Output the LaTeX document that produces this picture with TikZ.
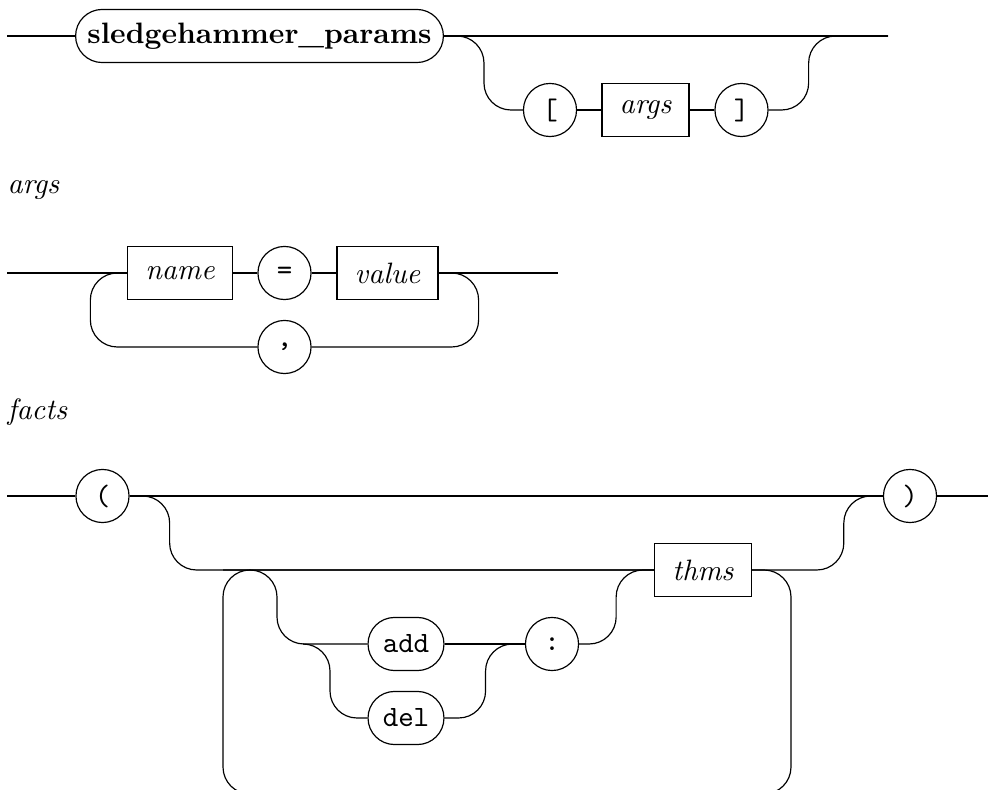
\documentclass[tikz,border=0pt]{standalone}
\usepackage{tikz}
\tikzset{
  rail/.style={rounded corners=9.15pt},
  term/.style={draw, circle, minimum size=18pt, inner sep=0pt, font=\ttfamily},
  kwbox/.style={draw, rounded corners=9pt, minimum height=18pt, inner xsep=4pt, font=\bfseries},
  ttbox/.style={draw, rounded corners=9pt, minimum height=18pt, inner xsep=5pt, font=\ttfamily},
  ntbox/.style={draw, minimum height=18pt, inner xsep=6pt, font=\itshape},
  title/.style={anchor=west, inner sep=0pt, font=\itshape},
}

\begin{document}
\begin{tikzpicture}[x=0.339pt, y=-0.339pt]
\useasboundingbox (0,0) rectangle (995,790);
\clip (0,0) rectangle (995,790);
% sledgehammer_params
\coordinate (s1) at (7,36);
\coordinate (e1) at (888,36);
\node[kwbox] (kw) at (259.5,36) {sledgehammer\_params};
\node[term] (lb) at (550,110) {[};
\node[ntbox] (ar) at (645.5,110) {args};
\node[term] (rb) at (741.5,110) {]};
\draw (s1) -- (kw.west);
\draw (kw.east) -- (e1);
\draw[rail] (kw.east) -- ++(40,0) |- (lb.west);
\draw (lb.east) -- (ar.west);
\draw (ar.east) -- (rb.west);
\draw[rail] (rb.east) -- ++(40,0) |- (e1);
% args
\node[title] (targs) at (7,190) {args};
\coordinate (s2) at (7,273);
\coordinate (e2) at (558,273);
\node[ntbox] (nm) at (180,273) {name};
\node[term] (eq) at (284.5,273) {=};
\node[ntbox] (vl) at (387.5,273) {value};
\node[term] (cm) at (284.5,347) {,};
\draw (s2) -- (nm.west);
\draw (nm.east) -- (eq.west);
\draw (eq.east) -- (vl.west);
\draw (vl.east) -- (e2);
\draw[rail] (vl.east) -- ++(40,0) |- (cm.east);
\draw[rail] (cm.west) -- ++(-167,0) |- (nm.west);
% facts
\node[title] (tfacts) at (7,412) {facts};
\coordinate (s3) at (7,496);
\coordinate (e3) at (988,496);
\coordinate (j1) at (223,570);
\coordinate (j2) at (303,644);
\coordinate (lpl) at (223,794);
\coordinate (lpr) at (791,794);
\node[term] (op) at (102.5,496) {(};
\node[term] (cp) at (910,496) {)};
\node[ntbox] (th) at (703,570) {thms};
\node[ttbox] (ad) at (406,644) {add};
\node[ttbox] (dl) at (406,718) {del};
\node[term] (co) at (552,644) {:};
\draw (s3) -- (op.west);
\draw (op.east) -- (cp.west);
\draw (cp.east) -- (e3);
\draw[rail] (op.east) -- ++(40,0) |- (th.west);
\draw[rail] (th.east) -- ++(92,0) |- (cp.west);
\draw[rail] (th.east) -| (lpr) -- (lpl) |- (th.west);
\draw[rail] (j1) -- ++(54,0) |- (ad.west);
\draw[rail] (j2) -- ++(27,0) |- (dl.west);
\draw (ad.east) -- (co.west);
\draw[rail] (dl.east) -- ++(41,0) |- (co.west);
\draw[rail] (co.east) -- ++(37,0) |- (th.west);
\end{tikzpicture}
\end{document}
